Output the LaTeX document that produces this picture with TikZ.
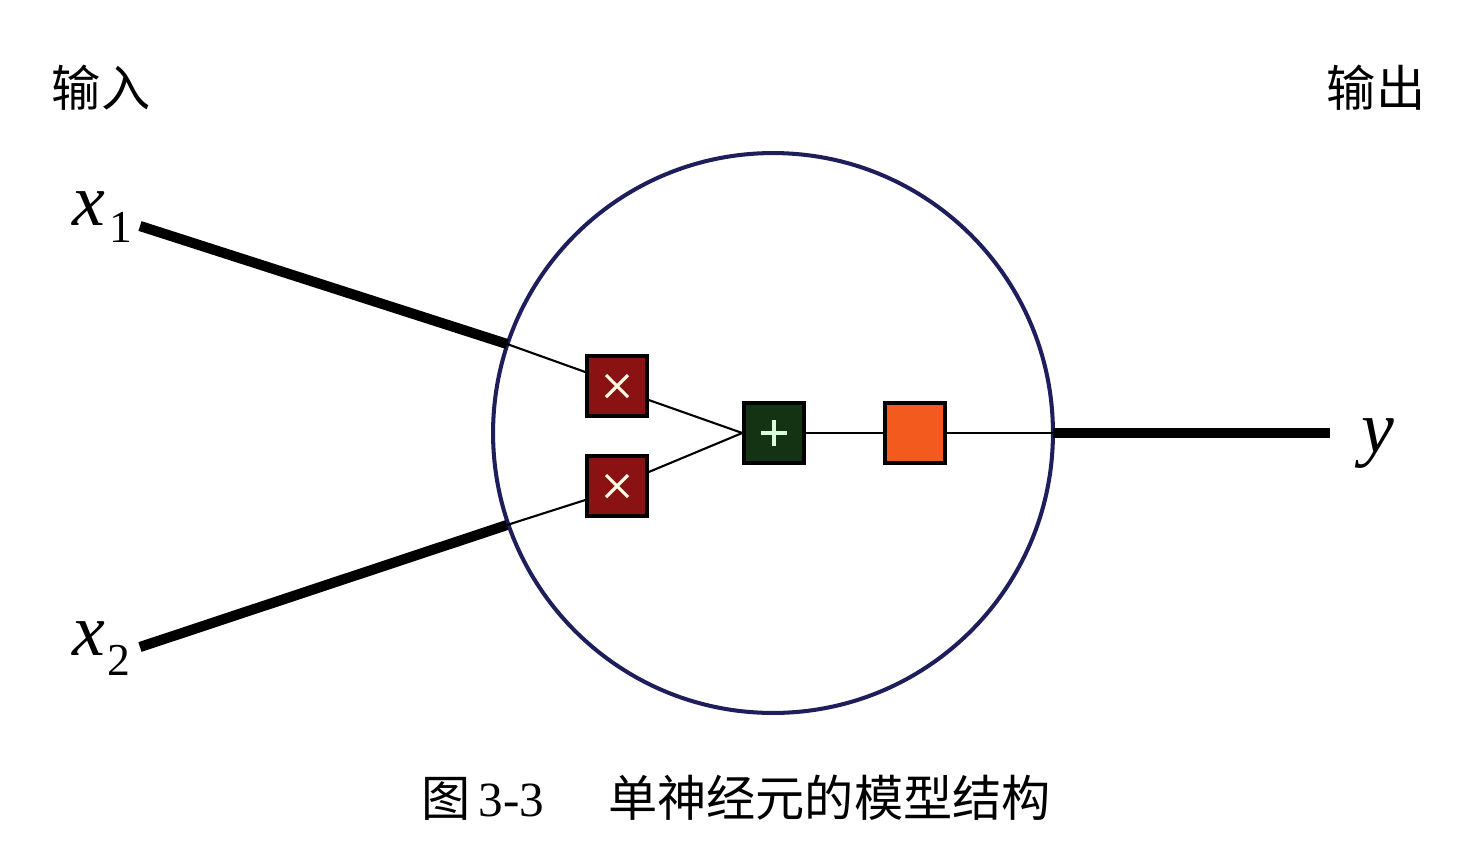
\documentclass[tikz,border=0pt]{standalone}
\usepackage{fontspec}
\setmainfont{Liberation Serif}
\newfontfamily\cjk{Noto Sans CJK SC}
\definecolor{navy}{HTML}{1E1E5C}
\definecolor{boxred}{HTML}{8A1212}
\definecolor{boxgreen}{HTML}{133313}
\definecolor{boxorange}{HTML}{F25A1E}
\begin{document}
\begin{tikzpicture}[x=0.02cm,y=-0.02cm,
  opbox/.style={draw=black,line width=2pt,minimum size=1.2cm,inner sep=0pt},
  thickline/.style={line width=5.8pt,black},
  thinline/.style={line width=1.2pt,black},
  var/.style={font=\fontsize{42}{46}\selectfont\itshape,inner sep=0pt},
  sub/.style={font=\fontsize{26}{28}\selectfont,inner sep=0pt},
  cn/.style={font=\cjk\fontsize{28}{32}\selectfont,inner sep=0pt}]
\useasboundingbox (0,0) rectangle (1470,846);
% circle
\node[circle,draw=navy,line width=2.3pt,minimum size=11.2cm,inner sep=0pt] (cell) at (773,433) {};
% boxes
\node[opbox,fill=boxred] (m1) at (617,386) {};
\node[opbox,fill=boxred] (m2) at (617,486) {};
\node[opbox,fill=boxgreen] (sum) at (774,433) {};
\node[opbox,fill=boxorange] (act) at (915,433) {};
% symbols
\foreach \b in {m1,m2}{
  \draw[white!90!yellow,line width=1.8pt] ([shift={(-11,-11)}]\b.center) -- ([shift={(11,11)}]\b.center);
  \draw[white!90!yellow,line width=1.8pt] ([shift={(-11,11)}]\b.center) -- ([shift={(11,-11)}]\b.center);
}
\draw[green!15!white,line width=2pt] ([shift={(-13,0)}]sum.center) -- ([shift={(13,0)}]sum.center);
\draw[green!15!white,line width=2pt] ([shift={(0,-13)}]sum.center) -- ([shift={(0,13)}]sum.center);
% coordinates
\coordinate (i1) at (140,226);
\coordinate (c1) at (507,344);
\coordinate (i2) at (140,647);
\coordinate (c2) at (507,525);
\coordinate (co) at (1053,433);
\coordinate (o) at (1330,433);
% connectors
\draw[thickline] (i1) -- (c1);
\draw[thinline] (c1) -- (m1.west |- 0,372);
\draw[thickline] (i2) -- (c2);
\draw[thinline] (c2) -- (m2.west |- 0,500);
\draw[thinline] (m1.east |- 0,400) -- (sum.west);
\draw[thinline] (m2.east |- 0,472) -- (sum.west);
\draw[thinline] (sum.east) -- (act.west);
\draw[thinline] (act.east) -- (co);
\draw[thickline] (co) -- (o);
% labels
\node[var,anchor=base] (x1) at (89,225) {x};
\node[sub,anchor=base] (x1s) at (121,242) {1};
\node[var,anchor=base] (x2) at (89,655) {x};
\node[sub,anchor=base] (x2s) at (119,675) {2};
\node[var,anchor=base] (y) at (1378,452) {y};
\node[cn] (in) at (101,88) {输入};
\node[cn] (out) at (1376,88) {输出};
\node[inner sep=0pt,font=\fontsize{28}{30}\selectfont] (cap) at (736,798) {{\cjk 图}\,3-3\hspace{1.3em}{\cjk 单神经元的模型结构}};
\end{tikzpicture}
\end{document}
